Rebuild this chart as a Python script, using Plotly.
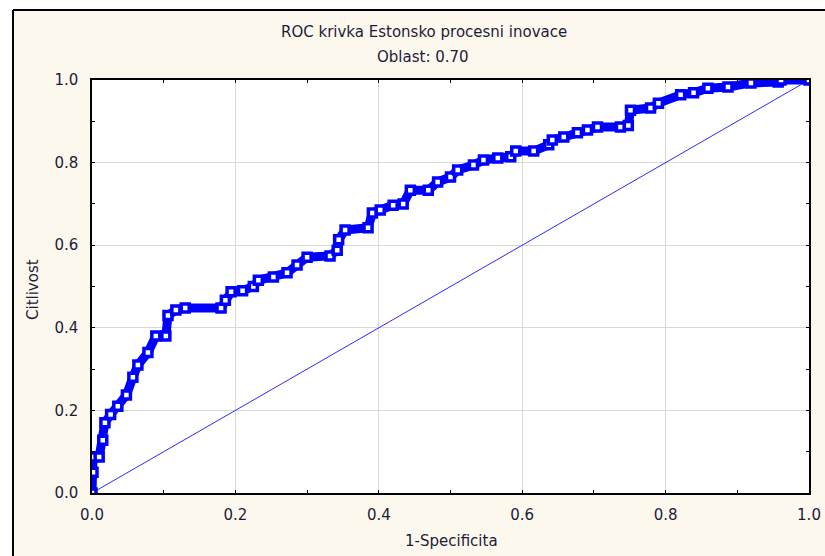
import plotly.graph_objects as go

# ROC curve points (1-Specificita, Citlivost)
fpr = [0.0, 0.0014, 0.0014, 0.010, 0.015, 0.018, 0.026, 0.036, 0.048, 0.057,
       0.064, 0.078, 0.089, 0.103, 0.106, 0.117, 0.130, 0.180, 0.186, 0.194,
       0.210, 0.225, 0.232, 0.253, 0.272, 0.286, 0.300, 0.332, 0.342, 0.344,
       0.353, 0.385, 0.391, 0.402, 0.420, 0.434, 0.444, 0.469, 0.482, 0.500,
       0.510, 0.532, 0.546, 0.566, 0.584, 0.591, 0.616, 0.637, 0.642, 0.658,
       0.677, 0.691, 0.705, 0.737, 0.748, 0.751, 0.779, 0.790, 0.821, 0.839,
       0.859, 0.887, 0.919, 0.957, 0.961, 1.0]
tpr = [0.0, 0.050, 0.087, 0.087, 0.128, 0.170, 0.190, 0.210, 0.237, 0.280,
       0.310, 0.340, 0.380, 0.380, 0.430, 0.443, 0.448, 0.448, 0.467, 0.487,
       0.490, 0.500, 0.515, 0.523, 0.533, 0.552, 0.571, 0.574, 0.588, 0.613,
       0.637, 0.642, 0.678, 0.685, 0.697, 0.700, 0.733, 0.733, 0.753, 0.765,
       0.782, 0.794, 0.806, 0.811, 0.814, 0.828, 0.828, 0.843, 0.855, 0.862,
       0.872, 0.879, 0.886, 0.886, 0.890, 0.927, 0.932, 0.944, 0.964, 0.969,
       0.980, 0.983, 0.993, 0.995, 1.0, 1.0]
diag = [0.0, 1.0]

title_line1 = "ROC krivka Estonsko procesni inovace"
title_line2 = "Oblast: 0.70"
x_title = "1-Specificita"
y_title = "Citlivost"
tick_vals = [0.0, 0.2, 0.4, 0.6, 0.8, 1.0]
tick_text = ["0.0", "0.2", "0.4", "0.6", "0.8", "1.0"]

W, H = 825, 556
ML, MR, MT, MB = 92, 16, 80, 63
PW, PH = W - ML - MR, H - MT - MB


def px_x(p):
    return (p - ML) / PW


def px_y(p):
    return (H - MB - p) / PH


FONT = "DejaVu Sans"
TXT = "#1c1c38"
BLUE = "#0000ff"

fig = go.Figure()
fig.add_trace(go.Scatter(x=diag, y=diag, mode="lines",
                         line=dict(color="#2a2aff", width=1), hoverinfo="skip",
                         showlegend=False))
fig.add_trace(go.Scatter(x=fpr, y=tpr, mode="lines+markers",
                         line=dict(color=BLUE, width=9),
                         marker=dict(symbol="square", size=8, color="white",
                                     line=dict(color=BLUE, width=3.5)),
                         showlegend=False))

axis_common = dict(range=[0, 1], tickvals=tick_vals, ticktext=tick_text,
                   showgrid=True, gridcolor="#d9d9d9", gridwidth=1,
                   showline=True, linecolor="black", linewidth=1.5,
                   mirror="allticks", ticks="inside", ticklen=3,
                   tickcolor="black", zeroline=False, automargin=False,
                   minor=dict(dtick=0.1, ticks="inside", ticklen=3,
                              tickcolor="black", showgrid=False),
                   tickfont=dict(family=FONT, size=15, color=TXT))

fig.update_layout(
    width=W, height=H, autosize=False,
    margin=dict(l=ML, r=MR, t=MT, b=MB, pad=0),
    paper_bgcolor="#fdf8ee", plot_bgcolor="white",
    xaxis=dict(**axis_common, ticklabelstandoff=7),
    yaxis=dict(**axis_common, ticklabelstandoff=9),
    showlegend=False,
    shapes=[
        # white strips outside the frame (kept inside the page)
        dict(type="rect", xref="paper", yref="paper", x0=px_x(0), x1=px_x(13),
             y0=px_y(H), y1=px_y(0), fillcolor="white", line_width=0, layer="above"),
        dict(type="rect", xref="paper", yref="paper", x0=px_x(0), x1=px_x(W),
             y0=px_y(10), y1=px_y(0), fillcolor="white", line_width=0, layer="above"),
        # frame lines
        dict(type="line", xref="paper", yref="paper", x0=px_x(13), x1=px_x(13),
             y0=px_y(H), y1=px_y(10), line=dict(color="black", width=2), layer="above"),
        dict(type="line", xref="paper", yref="paper", x0=px_x(13), x1=px_x(W),
             y0=px_y(10), y1=px_y(10), line=dict(color="black", width=2), layer="above"),
    ],
    annotations=[
        dict(text=title_line1, xref="paper", yref="paper", x=px_x(424), y=px_y(32),
             showarrow=False, xanchor="center", yanchor="middle",
             font=dict(family=FONT, size=15, color=TXT)),
        dict(text=title_line2, xref="paper", yref="paper", x=px_x(423), y=px_y(57),
             showarrow=False, xanchor="center", yanchor="middle",
             font=dict(family=FONT, size=15, color=TXT)),
        dict(text=x_title, xref="paper", yref="paper", x=px_x(451), y=px_y(541),
             showarrow=False, xanchor="center", yanchor="middle",
             font=dict(family=FONT, size=15, color=TXT)),
        dict(text=y_title, xref="paper", yref="paper", x=px_x(33), y=px_y(289),
             showarrow=False, xanchor="center", yanchor="middle", textangle=-90,
             font=dict(family=FONT, size=15, color=TXT)),
    ],
)

fig.write_html("out.html")
